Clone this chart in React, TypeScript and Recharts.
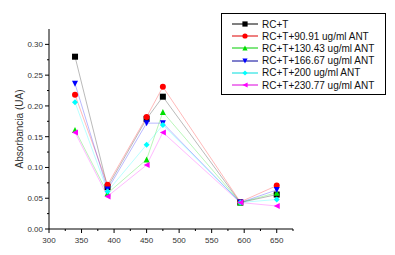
import { LineChart, Line, XAxis, YAxis } from 'recharts';

// longitud de onda (nm)
const wavelengths = [340, 390, 450, 475, 594, 650];

const rcT = [0.28, 0.068, 0.179, 0.215, 0.043, 0.056];
const ant9091 = [0.218, 0.072, 0.182, 0.231, 0.044, 0.0705];
const ant13043 = [0.161, 0.058, 0.113, 0.19, 0.043, 0.059];
const ant16667 = [0.236, 0.064, 0.172, 0.172, 0.043, 0.0635];
const ant200 = [0.206, 0.061, 0.137, 0.169, 0.043, 0.048];
const ant23077 = [0.157, 0.053, 0.104, 0.157, 0.043, 0.0374];

const seriesNames = [
  'RC+T',
  'RC+T+90.91 ug/ml ANT',
  'RC+T+130.43 ug/ml ANT',
  'RC+T+166.67 ug/ml ANT',
  'RC+T+200 ug/ml ANT',
  'RC+T+230.77 ug/ml ANT',
];
const seriesValues = [rcT, ant9091, ant13043, ant16667, ant200, ant23077];
const seriesColors = ['#000000', '#ff0000', '#00e000', '#0000ff', '#00ffff', '#ff00ff'];
const legendLineColors = ['#000000', '#dd0000', '#00cc00', '#000099', '#00dddd', '#dd00dd'];
const seriesShapes = ['square', 'circle', 'up', 'down', 'diamond', 'left'];

const xTicks = [300, 325, 350, 375, 400, 425, 450, 475, 500, 525, 550, 575, 600, 625, 650, 675];
const yTicks = [0, 0.025, 0.05, 0.075, 0.1, 0.125, 0.15, 0.175, 0.2, 0.225, 0.25, 0.275, 0.3];

const data = wavelengths.map((w, i) => {
  const row: Record<string, number> = { w };
  seriesValues.forEach((vals, s) => {
    row['s' + s] = vals[i];
  });
  return row;
});

function Marker({ cx, cy, shape, color, r = 3 }: any) {
  if (cx == null || cy == null) return null;
  switch (shape) {
    case 'square':
      return <rect x={cx - r} y={cy - r} width={r * 2} height={r * 2} fill={color} />;
    case 'circle':
      return <circle cx={cx} cy={cy} r={r} fill={color} />;
    case 'up':
      return <polygon points={`${cx},${cy - r} ${cx + r},${cy + r} ${cx - r},${cy + r}`} fill={color} />;
    case 'down':
      return <polygon points={`${cx - r},${cy - r} ${cx + r},${cy - r} ${cx},${cy + r}`} fill={color} />;
    case 'diamond':
      return <polygon points={`${cx},${cy - r} ${cx + r},${cy} ${cx},${cy + r} ${cx - r},${cy}`} fill={color} />;
    default:
      return <polygon points={`${cx - r},${cy} ${cx + r},${cy - r} ${cx + r},${cy + r}`} fill={color} />;
  }
}

const fontFamily = 'Liberation Sans, Arial, sans-serif';
const tickFont = { fontFamily, fontSize: 8, fill: '#333' };

function XTick({ x, y, payload }: any) {
  const major = payload.value % 50 === 0;
  return (
    <g>
      <line x1={x} y1={y} x2={x} y2={y + (major ? 4 : 2)} stroke="#000" />
      {major && payload.value <= 650 && (
        <text x={x} y={y + 14} textAnchor="middle" {...tickFont}>
          {payload.value}
        </text>
      )}
    </g>
  );
}

function YTick({ x, y, payload }: any) {
  const major = Math.round(payload.value * 1000) % 50 === 0;
  return (
    <g>
      <line x1={x} y1={y} x2={x - (major ? 4 : 2)} y2={y} stroke="#000" />
      {major && (
        <text x={x - 6} y={y + 3} textAnchor="end" {...tickFont}>
          {payload.value.toFixed(2)}
        </text>
      )}
    </g>
  );
}

function LegendBox() {
  return (
    <div
      style={{
        position: 'absolute',
        left: 221,
        top: 13,
        width: 165,
        height: 82,
        border: '1px solid #000',
        boxSizing: 'border-box',
        padding: '4px 0 0 10px',
        background: '#fff',
      }}
    >
      {seriesNames.map((name, i) => (
        <div key={name} style={{ display: 'flex', alignItems: 'center', height: 12.2 }}>
          <svg width={26} height={10} style={{ marginRight: 4 }}>
            <line x1={0} y1={5} x2={26} y2={5} stroke={legendLineColors[i]} strokeWidth={1} />
            <Marker cx={13} cy={5} r={2.6} shape={seriesShapes[i]} color={seriesColors[i]} />
          </svg>
          <span style={{ fontFamily, fontSize: 10, color: '#111', whiteSpace: 'nowrap' }}>{name}</span>
        </div>
      ))}
    </div>
  );
}

export default function App() {
  return (
    <div style={{ position: 'absolute', left: 0, top: 0, width: 395, height: 255, background: '#fff' }}>
      <LineChart width={395} height={255} data={data} margin={{ top: 29, right: 102, bottom: 0, left: 0 }}>
        <XAxis
          dataKey="w"
          type="number"
          domain={[300, 675]}
          ticks={xTicks}
          interval={0}
          tickSize={0}
          tickMargin={0}
          tickLine={false}
          tick={<XTick />}
          height={26}
          axisLine={{ stroke: '#000' }}
        />
        <YAxis
          type="number"
          domain={[0, 0.325]}
          ticks={yTicks}
          interval={0}
          tickSize={0}
          tickMargin={0}
          tickLine={false}
          tick={<YTick />}
          width={49}
          axisLine={{ stroke: '#000' }}
          label={{
            value: 'Absorbancia (UA)',
            angle: -90,
            position: 'insideLeft',
            dx: 14,
            style: { fontFamily, fontSize: 10, fill: '#333', textAnchor: 'middle' },
          }}
        />
        {seriesNames.map((name, i) => (
          <Line
            key={name}
            name={name}
            dataKey={'s' + i}
            stroke={seriesColors[i]}
            strokeOpacity={0.35}
            strokeWidth={0.8}
            isAnimationActive={false}
            dot={(p: any) => (
              <Marker key={`${i}-${p.index}`} cx={p.cx} cy={p.cy} shape={seriesShapes[i]} color={seriesColors[i]} />
            )}
            activeDot={false}
          />
        ))}
      </LineChart>
      <LegendBox />
    </div>
  );
}
